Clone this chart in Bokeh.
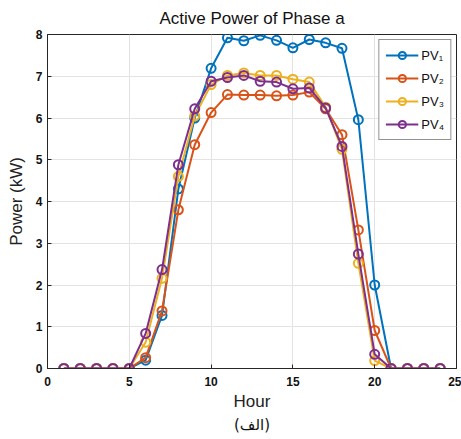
from bokeh.plotting import figure
from bokeh.models import Range1d, FixedTicker, Title, Legend, LegendItem
from bokeh.embed import file_html
from bokeh.resources import INLINE

hours = list(range(1, 25))
pv1 = [0, 0, 0, 0, 0, 0.2, 1.27, 4.3, 6.0, 7.19, 7.92, 7.85, 7.98, 7.86, 7.68, 7.88, 7.8, 7.67, 5.96, 2.0, 0, 0, 0, 0]
pv2 = [0, 0, 0, 0, 0, 0.26, 1.38, 3.8, 5.36, 6.13, 6.56, 6.55, 6.55, 6.53, 6.55, 6.62, 6.22, 5.6, 3.32, 0.91, 0, 0, 0, 0]
pv3 = [0, 0, 0, 0, 0, 0.63, 2.16, 4.6, 6.05, 6.8, 7.02, 7.08, 7.02, 7.02, 6.93, 6.86, 6.26, 5.25, 2.52, 0.19, 0, 0, 0, 0]
pv4 = [0, 0, 0, 0, 0, 0.84, 2.37, 4.88, 6.22, 6.88, 6.97, 7.02, 6.88, 6.86, 6.7, 6.72, 6.24, 5.32, 2.74, 0.34, 0, 0, 0, 0]
series = [("PV\u2081", pv1, "#0072BD"), ("PV\u2082", pv2, "#D95319"),
          ("PV\u2083", pv3, "#EDB120"), ("PV\u2084", pv4, "#7E2F8E")]
x_ticks = [0, 5, 10, 15, 20, 25]
y_ticks = [0, 1, 2, 3, 4, 5, 6, 7, 8]

FONT = "Liberation Sans"

p = figure(width=461, height=434, output_backend="svg", toolbar_location=None,
           x_range=Range1d(0, 25), y_range=Range1d(0, 8),
           min_border_left=47, min_border_right=5, min_border_top=34, min_border_bottom=10)
p.title.text = "Active Power of Phase a"
p.title.align = "center"
p.title.text_font = FONT
p.title.text_font_size = "17px"
p.title.text_font_style = "normal"
p.title.text_color = "#111111"
p.title.standoff = 13

p.outline_line_color = "#262626"
p.outline_line_width = 1

for ax, ticks in ((p.xaxis[0], x_ticks), (p.yaxis[0], y_ticks)):
    ax.ticker = FixedTicker(ticks=ticks)
    ax.major_tick_in = 4
    ax.major_tick_out = 0
    ax.minor_tick_line_color = None
    ax.axis_line_color = "#262626"
    ax.major_tick_line_color = "#262626"
    ax.major_label_text_font = FONT
    ax.major_label_text_font_style = "bold"
    ax.major_label_text_font_size = "12px"
    ax.major_label_text_color = "#111111"
    ax.axis_label_text_font = FONT
    ax.axis_label_text_font_style = "normal"
    ax.axis_label_text_font_size = "17px"
    ax.axis_label_text_color = "#222222"
p.xaxis[0].axis_label = "Hour"
p.yaxis[0].axis_label = "Power (kW)"
p.xaxis[0].major_label_standoff = 8
p.yaxis[0].major_label_standoff = 5
p.xaxis[0].axis_label_standoff = 3
p.yaxis[0].axis_label_standoff = 7

p.xgrid.ticker = FixedTicker(ticks=x_ticks)
p.ygrid.ticker = FixedTicker(ticks=y_ticks)
p.grid.grid_line_color = "#e3e3e3"
p.grid.grid_line_width = 1

items = []
for name, vals, col in series:
    r1 = p.line(hours, vals, line_color=col, line_width=2)
    r2 = p.scatter(hours, vals, marker="circle", size=9, fill_color=None, line_color=col, line_width=2)
    items.append(LegendItem(label=name, renderers=[r1, r2]))

legend = Legend(items=items, location="top_right")
legend.label_text_font = FONT
legend.label_text_font_size = "13px"
legend.label_text_color = "#111111"
legend.glyph_width = 33
legend.glyph_height = 18
legend.spacing = 5
legend.label_standoff = 3
legend.padding = 6
legend.margin = 5
legend.border_line_color = "#262626"
legend.border_line_width = 1
legend.background_fill_alpha = 1
p.add_layout(legend)

cap = Title(text="(\u0627\u0644\u0641)", align="center", text_font="DejaVu Sans",
            text_font_size="15px", text_font_style="normal", text_color="#111111",
            standoff=1)
p.add_layout(cap, "below")

open("out.html", "w").write(file_html(p, INLINE))
